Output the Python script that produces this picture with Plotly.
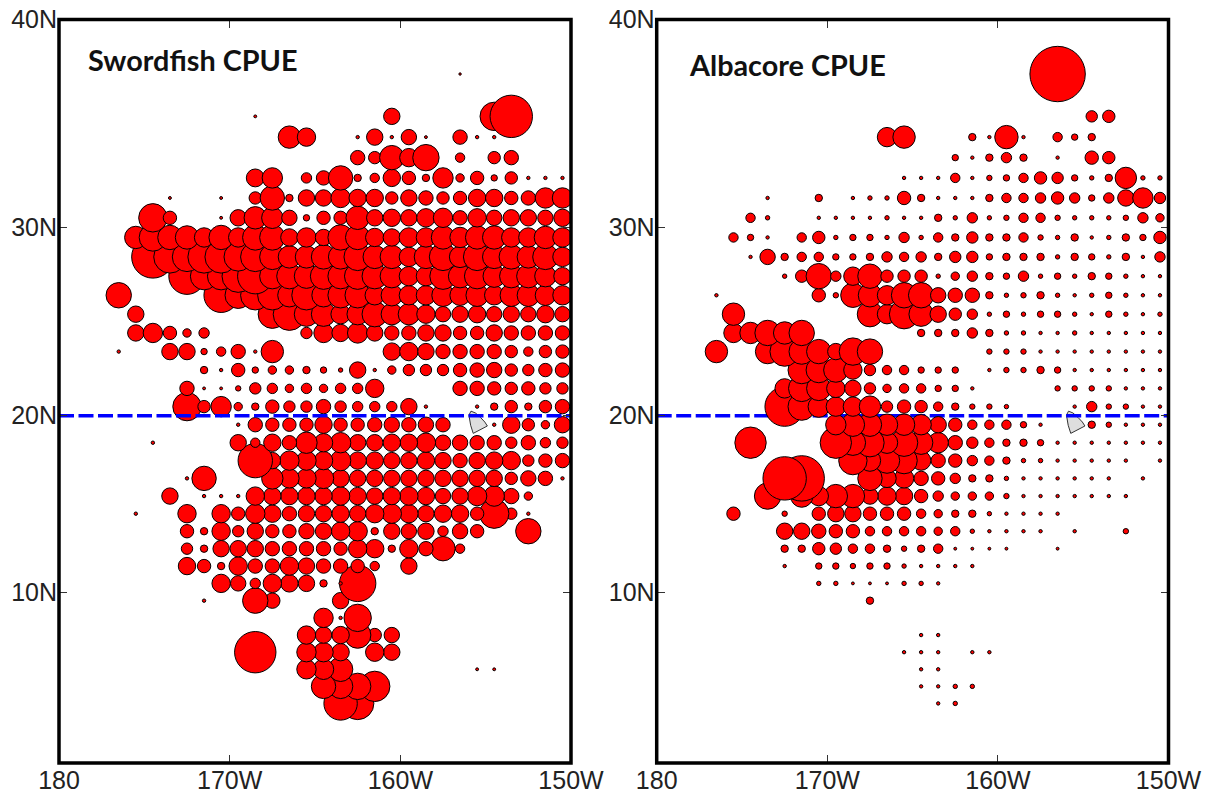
import math
import plotly.graph_objects as go

# Longitude is degrees west; column c holds the 1-degree cell centred on 179.5 - c.
def lon_w(c):
    return 179.5 - c

# Mercator ordinate of a latitude (degrees)
def merc(lat):
    return math.degrees(math.log(math.tan(math.radians(45 + lat / 2))))

# Rows: latitude -> (first column, CPUE per column; 0 = no data)
swordfish = {
    37.5: (23, [3]),
    35.5: (11, [3.5,0,0,0,0,0,0,0,17,0,0,0,0,0,29,43]),
    34.5: (13, [23,19,0,0,4,17,4,16,3.5,0,15,4,4]),
    33.5: (17, [15,13,25,19,27,0,10,0,13,15]),
    32.5: (11, [18.5,21,0,11,15,25,8,10,18,14,8,21,9,14,7,13,4,4,4]),
    31.5: (6, [3.5,0,0,3.5,0,13,25,8,17,17,20,18,18,13,17,15,13,14,18,18,14,15,21,21]),
    30.5: (5, [29,14,0,0,3.5,17,23,22,16,7,14,14,24,17,18,17,19,20,15,19,16,17,17,16,18]),
    29.5: (4, [23,28,25,24,20,25,20,26,26,18,20,17,26,25,19,18,20,20,24,21,24,24,20,20,23,20]),
    28.5: (5, [43,33,30,33,33,29,30,26,23,23,25,25,28,24,24,20,24,28,22,28,24,25,23,26,20]),
    27.5: (7, [37,28,28,33,36,26,26,25,27,26,27,26,24,20,20,27,24,26,23,24,24,22,18]),
    26.5: (3, [26,0,0,0,0,0,35,27,30,30,24,30,24,26,26,20,22,20,20,23,21,23,20,23,23,21,20]),
    25.5: (4, [17,0,0,0,0,0,0,0,29,33,25,25,20,22,26,22,22,19,16,17,18,16,17,16,18,16]),
    24.5: (4, [17,20,14,9,11,0,0,0,0,0,12,20,18,21,17,15,15,17,17,14,14,17,15,15,15,15]),
    23.5: (3, [4,0,0,17,17,7,10,15,4,23,0,0,0,0,0,0,18,19,17,15,15,15,15,13,10,13,14]),
    22.5: (8, [8,4,14,7,9,9,8,7,5,17,4,9,12,12,12,14,15,16,13,12,14,15]),
    21.5: (7, [15,3.5,3.5,6,12,11,9,11,9,11,11,19,0,0,0,0,15,15,14,13,14,12,12]),
    20.5: (7, [29,13,21,9,8,14,12,12,15,12,11,11,11,17,4,0,0,4,8,13,8,13,15]),
    19.5: (10, [4,15,14,14,14,18,14,14,15,16,15,16,15,0,0,4,18,13,9,17]),
    18.5: (5, [4,0,0,0,0,17,10,18,15,22,19,21,17,17,18,18,20,16,16,15,15,12,15,11,12]),
    17.5: (11, [35,17,20,20,19,21,18,18,17,17,18,17,15,17,18,19,12,14,15]),
    16.5: (7, [4,25,0,0,0,22,20,20,21,18,17,17,17,17,17,17,17,17,17,13,16,15,4]),
    15.5: (6, [17,0,4,4,4,19,18,18,18,18,19,18,17,18,19,18,16,17,20,21,16,9]),
    14.5: (4, [4,0,0,19,0,19,14,20,18,15,17,17,18,17,19,20,19,17,18,18,14,30,12,4]),
    13.5: (7, [14,8,19,12,17,14,14,16,17,19,20,8,17,16,17,11,16,14,0,0,26]),
    12.5: (7, [12,8,17,17,17,15,15,15,15,14,19,19,8,19,15,25,10]),
    11.5: (7, [18,14,8,19,15,15,19,17,15,15,14,10,0,17]),
    10.5: (9, [19,16,11,19,18,17,8,4,37]),
    9.5: (8, [4,0,0,26,16,0,0,0,17]),
    8.5: (15, [20,4,28]),
    7.5: (14, [19,17,18,27,14,16]),
    6.5: (11, [42,0,0,20,20,18,0,19,17]),
    5.5: (14, [20,21,25,0,0,0,0,0,0,0,3.5,3.5]),
    4.5: (15, [25,25,27,31]),
    3.5: (16, [34,33]),
}

albacore = {
    37.5: (23, [56]),
    35.5: (25, [12,13]),
    34.5: (13, [20,23,0,0,0,8,4,24,4,0,10,7,8]),
    33.5: (17, [7,4,8,11,8,0,4,0,14,13]),
    32.5: (14, [4,4,4,10,4,6,7,10,13,12,7,5,8,22,5,5]),
    31.5: (6, [4,0,0,8,0,4,5,5,14,8,4,4,4,8,10,10,11,13,11,7,11,17,21,12]),
    30.5: (5, [10,5,0,0,4,4,4,4,5,4,4,8,5,11,5,6,10,10,6,5,5,5,6,11,9]),
    29.5: (4, [10,7,4,0,10,13,5,7,7,5,11,5,10,8,12,8,8,10,6,5,8,4,5,8,7,13]),
    28.5: (5, [4,16,8,10,10,7,7,8,11,10,11,8,12,12,7,8,8,8,5,8,7,5,8,4,11]),
    27.5: (7, [5,13,26,11,19,25,13,13,13,5,9,11,8,7,11,5,7,5,8,7,5,4,4]),
    26.5: (3, [4,0,0,0,0,0,14,6,25,24,20,26,26,16,15,15,8,5,6,8,5,4,5,7,5,4,4]),
    25.5: (4, [23,0,0,0,0,0,0,0,26,20,30,25,17,13,11,5,7,5,7,7,5,4,7,5,4,5]),
    24.5: (4, [20,22,26,23,26,0,0,0,0,0,0,8,8,8,11,8,5,5,4,4,5,4,4,4,4,4]),
    23.5: (3, [23,0,0,25,30,26,25,17,28,26,0,0,0,0,0,0,6,6,6,4,4,4,4,4,4,4,4]),
    22.5: (8, [28,26,25,19,12,10,10,7,7,7,0,4,6,6,8,7,4,4,4,4,4,4]),
    21.5: (7, [20,27,25,19,17,12,9,10,10,7,7,4,0,0,0,0,6,6,6,6,4,4,4]),
    20.5: (7, [40,28,22,20,20,22,12,14,13,10,8,6,6,5,0,0,0,4,11,6,6,4,4]),
    19.5: (10, [21,24,24,22,22,21,17,14,10,10,10,7,4,0,0,8,6,4,4,4]),
    18.5: (5, [32,0,0,0,0,32,26,29,22,28,24,21,15,12,10,8,8,7,4,4,4,4,4,4,4]),
    17.5: (11, [29,22,26,27,20,15,14,11,10,8,5,5,4,4,4,4,4,0,4]),
    16.5: (7, [44,46,0,0,0,25,19,20,15,14,11,8,8,5,4,4,4,4,4,4,0,4]),
    15.5: (6, [27,0,23,20,24,24,17,19,18,14,11,9,9,9,6,4,4,4,4,4,4,4]),
    14.5: (4, [14,0,0,6,0,14,17,17,14,14,14,10,9,8,8,5,4,4,4,4]),
    13.5: (7, [17,17,15,14,14,10,10,10,10,9,10,5,4,4,4,4,0,4,0,0,6]),
    12.5: (7, [8,8,13,12,10,10,8,6,8,10,3.5,3.5,3.5,3.5,0,0,3.5]),
    11.5: (7, [4,0,7,7,6,7,7,5,4,4,4,4]),
    10.5: (9, [5,5,3.5,3.5,3.5,5,5,4]),
    9.5: (12, [8]),
    7.5: (15, [4,4]),
    6.5: (14, [4,4,4,0,4,4]),
    5.5: (15, [4,4]),
    4.5: (15, [4,4,5,5]),
    3.5: (16, [4,5]),
}

lat_ticks = [10, 20, 30, 40]
lat_labels = ["10N", "20N", "30N", "40N"]
lon_ticks = [180, 170, 160, 150]
lon_labels = ["180", "170W", "160W", "150W"]

# Big Island of Hawaii outline
island_lon = [155.86, 155.60, 155.30, 155.05, 154.90, 155.73, 155.88, 155.98, 155.86]
island_lat = [20.25, 20.15, 19.90, 19.65, 19.43, 19.02, 19.47, 20.03, 20.25]

W, H = 1208, 796
PANEL_TOP, PANEL_BOTTOM = 19.5, 763
LEFT_PANEL = (59, 571)
RIGHT_PANEL = (656.7, 1168.5)
FRAME_WIDTH = 3.5


def points(rows):
    xs, ys, vals = [], [], []
    for lat in sorted(rows):
        start, row = rows[lat]
        cols = list(enumerate(row, start))
        if lat < 20:
            cols.reverse()
        for c, v in cols:
            if v > 0:
                xs.append(lon_w(c))
                ys.append(merc(lat))
                vals.append(v)
    return xs, ys, vals


def bubble_trace(rows, xa, ya):
    xs, ys, vals = points(rows)
    return go.Scatter(
        x=xs, y=ys, xaxis=xa, yaxis=ya, mode="markers", hoverinfo="skip",
        marker=dict(size=[max(v - 0.6, 2.4) for v in vals], color="#ff0000",
                    line=dict(color="#000000", width=1), opacity=1),
    )


def island_trace(xa, ya):
    return go.Scatter(
        x=island_lon, y=[merc(v) for v in island_lat], xaxis=xa, yaxis=ya,
        mode="lines", fill="toself", fillcolor="#dedede",
        line=dict(color="#333333", width=1), hoverinfo="skip",
    )


def equator_line(xa, ya):
    return go.Scatter(
        x=[180, 150], y=[merc(20), merc(20)], xaxis=xa, yaxis=ya, mode="lines",
        line=dict(color="#0000ff", width=3.5, dash="15px,4.5px"), hoverinfo="skip",
    )


fig = go.Figure()
fig.add_trace(island_trace("x", "y"))
fig.add_trace(bubble_trace(swordfish, "x", "y"))
fig.add_trace(equator_line("x", "y"))
fig.add_trace(island_trace("x2", "y2"))
fig.add_trace(equator_line("x2", "y2"))
fig.add_trace(bubble_trace(albacore, "x2", "y2"))

tick_font = dict(family="Liberation Sans", size=25, color="#222222")
xaxis_style = dict(
    range=[180, 150], tickvals=lon_ticks, ticktext=lon_labels, ticks="inside",
    ticklen=8, tickwidth=1, tickcolor="#333333", showgrid=False, zeroline=False,
    showline=True, linewidth=1, linecolor="#000000", mirror="ticks",
    tickfont=tick_font, automargin=False, ticklabelstandoff=-5,
)
yaxis_style = dict(
    range=[0, merc(40)], tickvals=[merc(v) for v in lat_ticks], ticktext=lat_labels,
    ticks="inside", ticklen=8, tickwidth=1, tickcolor="#333333", showgrid=False,
    zeroline=False, showline=True, linewidth=1, linecolor="#000000", mirror="ticks",
    tickfont=tick_font, automargin=False, ticklabelstandoff=-4,
)
y_domain = [1 - PANEL_BOTTOM / H, 1 - PANEL_TOP / H]

shapes = []
for (x0, x1) in (LEFT_PANEL, RIGHT_PANEL):
    shapes.append(dict(type="rect", xref="paper", yref="paper",
                       x0=x0 / W, x1=x1 / W, y0=y_domain[0], y1=y_domain[1],
                       line=dict(color="#000000", width=FRAME_WIDTH), layer="above"))

annotations = [
    dict(text="<b>Swordfish CPUE</b>", xref="paper", yref="paper", x=86 / W, y=1 - 59.5 / H,
         xanchor="left", yanchor="middle", showarrow=False,
         font=dict(family="Lato", size=28.8, color="#111111")),
    dict(text="<b>Albacore CPUE</b>", xref="paper", yref="paper", x=687 / W, y=1 - 64.5 / H,
         xanchor="left", yanchor="middle", showarrow=False,
         font=dict(family="Lato", size=28.8, color="#111111")),
]

fig.update_layout(
    width=W, height=H, autosize=False, showlegend=False,
    margin=dict(l=0, r=0, t=0, b=0), paper_bgcolor="#ffffff", plot_bgcolor="#ffffff",
    xaxis=dict(domain=[LEFT_PANEL[0] / W, LEFT_PANEL[1] / W], anchor="y", **xaxis_style),
    yaxis=dict(domain=y_domain, anchor="x", **yaxis_style),
    xaxis2=dict(domain=[RIGHT_PANEL[0] / W, RIGHT_PANEL[1] / W], anchor="y2", **xaxis_style),
    yaxis2=dict(domain=y_domain, anchor="x2", **yaxis_style),
    shapes=shapes, annotations=annotations,
)

fig.write_html("out.html", config={"displayModeBar": False},
               post_script="document.body.style.margin='0';document.body.style.overflow='hidden';")
